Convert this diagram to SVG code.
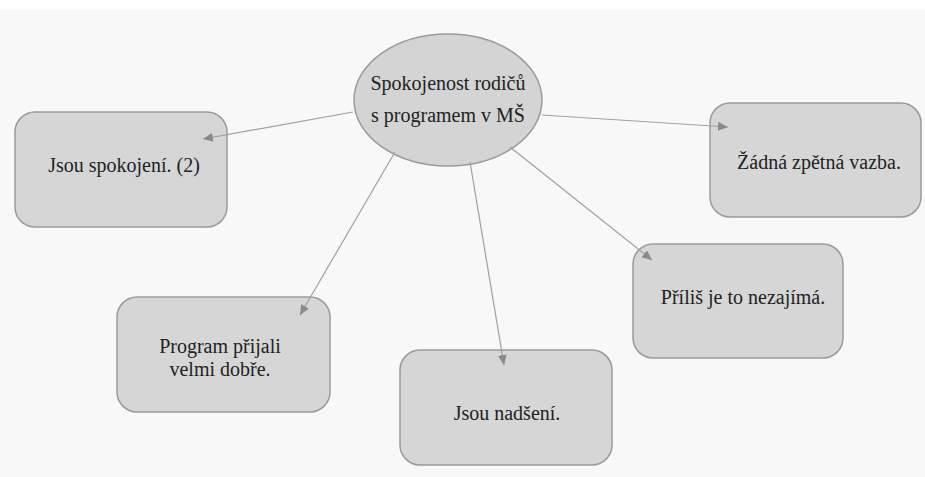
<svg xmlns="http://www.w3.org/2000/svg" width="925" height="477" viewBox="0 0 925 477">
<style>
.box{fill:#d6d6d6;stroke:#9a9a9a;stroke-width:1.5}
.lbl{font-family:"Liberation Serif","DejaVu Serif",serif;font-size:20px;fill:#222;text-anchor:middle}
.conn{stroke:#a0a0a0;stroke-width:1.2;fill:none;marker-end:url(#ah)}
</style>
<defs>
<marker id="ah" markerUnits="userSpaceOnUse" markerWidth="11" markerHeight="9" refX="10" refY="4.5" orient="auto">
<path d="M0,0 L10,4.5 L0,9 z" fill="#8a8a8a"/>
</marker>
</defs>
<rect x="0" y="0" width="925" height="477" fill="#f8f8f8"/>
<rect x="0" y="0" width="925" height="10" fill="#ffffff"/>
<g id="center">
<ellipse cx="448" cy="100" rx="94" ry="66" fill="#d4d4d4" stroke="#9a9a9a" stroke-width="1.5"/>
<text class="lbl" font-family="Liberation Serif" x="448" y="90">Spokojenost rodičů</text>
<text class="lbl" font-family="Liberation Serif" x="448" y="122">s programem v MŠ</text>
</g>
<g id="n1">
<rect class="box" x="15" y="112" width="212" height="115" rx="20"/>
<text class="lbl" x="124" y="172">Jsou spokojení. (2)</text>
</g>
<g id="n2">
<rect class="box" x="710" y="103" width="211" height="114" rx="20"/>
<text class="lbl" x="819" y="169">Žádná zpětná vazba.</text>
</g>
<g id="n3">
<rect class="box" x="117" y="297" width="213" height="115" rx="20"/>
<text class="lbl" x="220" y="353">Program přijali</text>
<text class="lbl" x="220" y="376">velmi dobře.</text>
</g>
<g id="n4">
<rect class="box" x="400" y="350" width="212" height="115" rx="20"/>
<text class="lbl" x="507" y="420">Jsou nadšení.</text>
</g>
<g id="n5">
<rect class="box" x="633" y="244" width="210" height="114" rx="20"/>
<text class="lbl" x="743" y="304">Příliš je to nezajímá.</text>
</g>
<g id="connectors">
<line class="conn" x1="353" y1="112" x2="203" y2="139"/>
<line class="conn" x1="542" y1="115" x2="728" y2="127"/>
<line class="conn" x1="395" y1="152" x2="300" y2="315"/>
<line class="conn" x1="470" y1="162" x2="504" y2="365"/>
<line class="conn" x1="510" y1="147" x2="652" y2="260"/>
</g>
</svg>
